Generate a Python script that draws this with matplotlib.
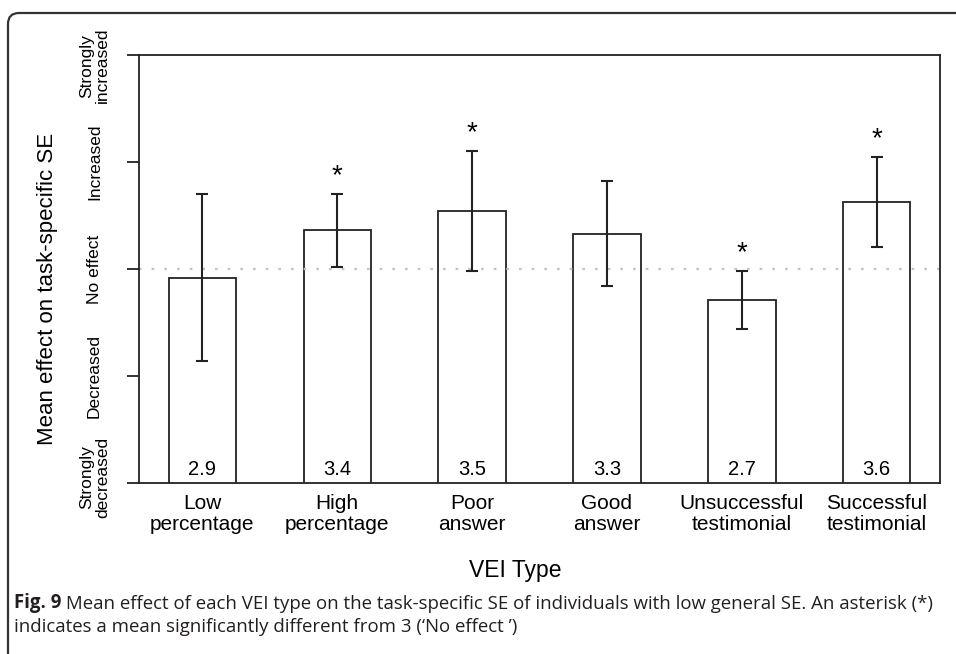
import matplotlib
matplotlib.use("Agg")
import matplotlib.pyplot as plt
import numpy as np
from matplotlib.patches import FancyBboxPatch

plt.rcParams['font.family'] = ['Liberation Sans', 'DejaVu Sans']

vei_types = ['Low\npercentage', 'High\npercentage', 'Poor\nanswer',
             'Good\nanswer', 'Unsuccessful\ntestimonial', 'Successful\ntestimonial']
mean_effect = [2.92, 3.36, 3.54, 3.33, 2.71, 3.63]
error = [0.78, 0.34, 0.56, 0.49, 0.27, 0.42]
significant = [False, True, True, False, True, True]

effect_levels = [1, 2, 3, 4, 5]
effect_labels = ['Strongly\ndecreased', 'Decreased', 'No effect',
                 'Increased', 'Strongly\nincreased']

caption_bold = 'Fig. 9'
caption_line1 = (' Mean effect of each VEI type on the task-specific SE of individuals '
                 'with low general SE. An asterisk (*)')
caption_line2 = 'indicates a mean significantly different from 3 (\u2018No effect \u2019)'

ink = '#222222'

fig = plt.figure(figsize=(9.56, 6.54), dpi=100)
ax = fig.add_axes([0.1454, 0.2615, 0.8379, 0.6544])

# bars laid out like R's barplot(space=1)
x = np.arange(len(vei_types)) * 2 + 1.5

ax.bar(x, mean_effect, width=1, color='white', edgecolor=ink, linewidth=1.3, zorder=1)
# reference line for "No effect", drawn over the bars
ax.axhline(3, color='#c4c4c4', linestyle=(0, (1.2, 4.5)), lw=1.6, zorder=1.5)
ax.errorbar(x, mean_effect, yerr=error, fmt='none', ecolor=ink,
            elinewidth=1.5, capsize=4, capthick=1.5, zorder=2)

for xi, m, e, sig in zip(x, mean_effect, error, significant):
    ax.text(xi, 1.07, f'{m:.1f}', ha='center', va='baseline', fontsize=14.5)
    if sig:
        ax.text(xi, m + e + 0.1, '*', ha='center', va='baseline', fontsize=20)

ax.set_xlim(0.56, 12.44)
ax.set_ylim(1, 5)

ax.set_xticks(x)
ax.set_xticklabels(vei_types, fontsize=15, linespacing=1.1)
ax.tick_params(axis='x', length=0, pad=8)

# y levels: ticks only, the rotated labels are placed as text so the
# two-line ones at the ends can sit a little inside the axis range
ax.set_yticks(effect_levels)
ax.set_yticklabels([])
ax.tick_params(axis='y', length=8.6, width=1.3, color=ink)
end_shift = {1: 0.055, 5: -0.10}
for lvl, lab in zip(effect_levels, effect_labels):
    ax.text(-0.0555, lvl + end_shift.get(lvl, 0), lab, transform=ax.get_yaxis_transform(),
            rotation=90, ha='center', va='center', multialignment='center',
            fontsize=12.5, linespacing=1.12, clip_on=False)

for side in ax.spines.values():
    side.set_color(ink)
    side.set_linewidth(1.3)

fig.text(48 / 956, 1 - 289 / 654, 'Mean effect on task-specific SE',
         rotation=90, ha='center', va='center', fontsize=16)
fig.text(515 / 956, 1 - 571 / 654, 'VEI Type', ha='center', va='center', fontsize=16.5)

# caption below the chart
cap_font = ['Open Sans', 'DejaVu Sans']
cap_size = 13.4
t1 = fig.text(14 / 956, 1 - 608 / 654, caption_bold, family=cap_font,
              fontweight='bold', fontsize=cap_size, color='#231f20', va='baseline')
ax.annotate(caption_line1, xy=(1, 0), xycoords=t1, ha='left', va='bottom',
            family=cap_font, fontsize=cap_size, color='#231f20', annotation_clip=False)
fig.text(14 / 956, 1 - 632 / 654, caption_line2, family=cap_font,
         fontsize=cap_size, color='#231f20', va='baseline')

# rounded frame around the figure panel
frame = FancyBboxPatch((8, -40), 1000, 681, boxstyle='round,pad=0,rounding_size=11',
                       transform=None, fill=False, lw=1.6, ec='#333333')
fig.add_artist(frame)

fig.savefig('out.png', dpi=100)
